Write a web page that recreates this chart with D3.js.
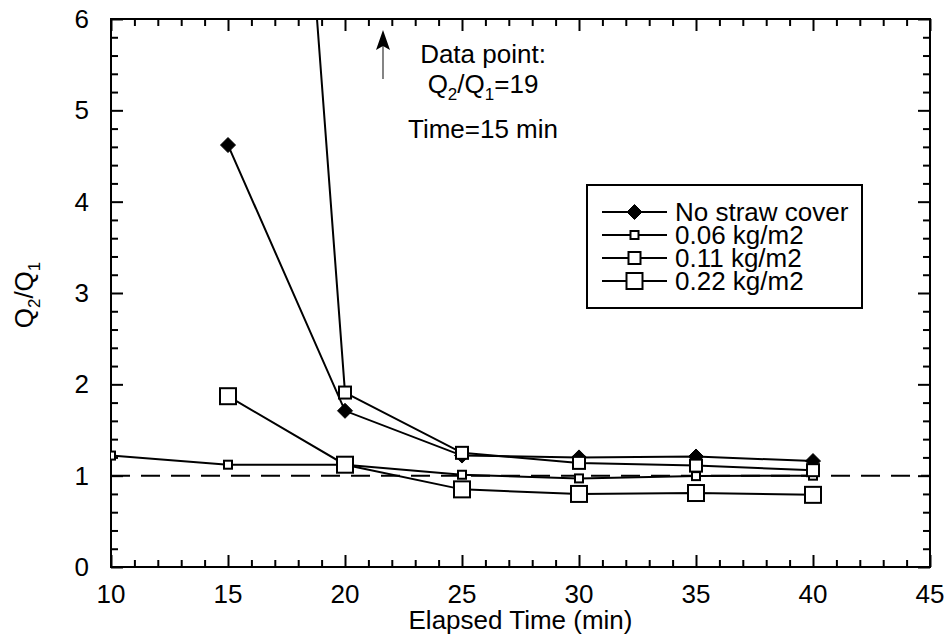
<!DOCTYPE html>
<html><head><meta charset="utf-8">
<script src="https://cdn.jsdelivr.net/npm/d3@7"></script>
<style>body{margin:0;background:#fff}svg{display:block}text{font-family:Arial,"Liberation Sans",sans-serif;fill:#000}</style>
</head><body>
<svg id="c" width="947" height="641"></svg>
<script>
const times = [10, 15, 20, 25, 30, 35, 40];
const seriesNames = ["No straw cover", "0.06 kg/m2", "0.11 kg/m2", "0.22 kg/m2"];
const noStraw = [null, 4.62, 1.71, 1.22, 1.20, 1.21, 1.16];
const kg006 = [1.22, 1.12, 1.12, 1.01, 0.97, 0.995, 1.0];
const kg011 = [null, 19, 1.91, 1.25, 1.14, 1.11, 1.06];
const kg022 = [null, 1.87, 1.12, 0.85, 0.80, 0.81, 0.79];
const xTicks = [10, 15, 20, 25, 30, 35, 40, 45];
const yTicks = [0, 1, 2, 3, 4, 5, 6];

const svg = d3.select("#c");
const L = 111, R = 930, T = 19, B = 567;
const x = d3.scaleLinear().domain([10, 45]).range([L, R]);
const y = d3.scaleLinear().domain([0, 6]).range([B, T]);
const FS = 26;
const SUB = 17;

svg.append("defs").append("clipPath").attr("id", "clip")
  .append("rect").attr("x", L).attr("y", T).attr("width", R - L).attr("height", B - T);

// reference dashed line at 1
svg.append("line").attr("x1", L).attr("x2", R).attr("y1", y(1)).attr("y2", y(1))
  .attr("stroke", "#000").attr("stroke-width", 2).attr("stroke-dasharray", "19,11");

// axes with inward ticks
function ax(gen, tr, ticks, len) {
  const g = svg.append("g").attr("transform", tr)
    .call(gen.tickValues(ticks).tickSize(len).tickFormat(""));
  g.select(".domain").remove();
  g.selectAll("line").attr("stroke", "#000").attr("stroke-width", 2);
  return g;
}
const xMinor = d3.range(10, 46, 1).filter(v => v % 5 !== 0);
const yMinor = d3.range(0, 6.01, 0.2).map(v => +v.toFixed(1)).filter(v => Math.abs(v - Math.round(v)) > 0.01);
ax(d3.axisTop(x), `translate(0,${B})`, xTicks, 12);
ax(d3.axisTop(x), `translate(0,${B})`, xMinor, 7);
ax(d3.axisBottom(x), `translate(0,${T})`, xTicks, 12);
ax(d3.axisBottom(x), `translate(0,${T})`, xMinor, 7);
ax(d3.axisRight(y), `translate(${L},0)`, yTicks, 12);
ax(d3.axisRight(y), `translate(${L},0)`, yMinor, 7);
ax(d3.axisLeft(y), `translate(${R},0)`, yTicks, 12);
ax(d3.axisLeft(y), `translate(${R},0)`, yMinor, 7);

// tick labels
svg.append("g").selectAll("text").data(xTicks).join("text")
  .attr("x", d => x(d)).attr("y", 603).attr("text-anchor", "middle")
  .attr("font-size", FS).text(d => d);
svg.append("g").selectAll("text").data(yTicks).join("text")
  .attr("x", 89).attr("y", d => y(d) + 9).attr("text-anchor", "end")
  .attr("font-size", FS).text(d => d);

// frame
svg.append("rect").attr("x", L).attr("y", T).attr("width", R - L).attr("height", B - T)
  .attr("fill", "none").attr("stroke", "#000").attr("stroke-width", 2);

// axis titles
svg.append("text").attr("x", (L + R) / 2).attr("y", 629).attr("text-anchor", "middle")
  .attr("font-size", FS).text("Elapsed Time (min)");
const yt = svg.append("text").attr("transform", "translate(33,295) rotate(-90)")
  .attr("text-anchor", "middle").attr("font-size", FS);
yt.append("tspan").text("Q");
yt.append("tspan").attr("font-size", SUB).attr("dy", 7).text("2");
yt.append("tspan").attr("dy", -7).text("/Q");
yt.append("tspan").attr("font-size", SUB).attr("dy", 7).text("1");

// series
const series = [
  {name: seriesNames[0], vals: noStraw, shape: "diamond", size: 15},
  {name: seriesNames[1], vals: kg006, shape: "square", size: 8},
  {name: seriesNames[2], vals: kg011, shape: "square", size: 12},
  {name: seriesNames[3], vals: kg022, shape: "square", size: 16}
];
const line = d3.line().defined(d => d[1] != null).x(d => x(d[0])).y(d => y(d[1]));
const plot = svg.append("g").attr("clip-path", "url(#clip)");
function marker(g, s, cx, cy) {
  if (s.shape === "diamond") {
    const h = s.size / 2;
    g.append("path").attr("d", `M${cx},${cy - h}L${cx + h},${cy}L${cx},${cy + h}L${cx - h},${cy}Z`)
      .attr("fill", "#000").attr("stroke", "#000").attr("stroke-width", 1);
  } else {
    g.append("rect").attr("x", cx - s.size / 2).attr("y", cy - s.size / 2)
      .attr("width", s.size).attr("height", s.size)
      .attr("fill", "#fff").attr("stroke", "#000").attr("stroke-width", 2);
  }
}
series.forEach(s => {
  const pts = times.map((t, i) => [t, s.vals[i]]);
  plot.append("path").datum(pts).attr("d", line).attr("fill", "none")
    .attr("stroke", "#000").attr("stroke-width", 2);
});
series.forEach(s => {
  times.forEach((t, i) => {
    const v = s.vals[i];
    if (v == null || v > 6) return;
    marker(plot, s, x(t), y(v));
  });
});

// legend
const lg = svg.append("g");
lg.append("rect").attr("x", 587).attr("y", 185).attr("width", 275).attr("height", 123)
  .attr("fill", "#fff").attr("stroke", "#000").attr("stroke-width", 2);
series.forEach((s, i) => {
  const cy = 212 + i * 23;
  lg.append("line").attr("x1", 602).attr("x2", 667).attr("y1", cy).attr("y2", cy)
    .attr("stroke", "#000").attr("stroke-width", 2);
  marker(lg, s, 634.5, cy);
  lg.append("text").attr("x", 675).attr("y", cy + 9).attr("font-size", FS).text(s.name);
});

// annotation
const ann = svg.append("g");
ann.append("line").attr("x1", 383).attr("x2", 383).attr("y1", 79).attr("y2", 44)
  .attr("stroke", "#333").attr("stroke-width", 1.2);
ann.append("path").attr("d", "M383,30 L390,50 L383,46 L376,50 Z").attr("fill", "#000");
ann.append("text").attr("x", 483).attr("y", 63).attr("text-anchor", "middle").attr("font-size", FS).text("Data point:");
const qt = ann.append("text").attr("x", 483).attr("y", 93).attr("text-anchor", "middle").attr("font-size", FS);
qt.append("tspan").text("Q");
qt.append("tspan").attr("font-size", SUB).attr("dy", 7).text("2");
qt.append("tspan").attr("dy", -7).text("/Q");
qt.append("tspan").attr("font-size", SUB).attr("dy", 7).text("1");
qt.append("tspan").attr("dy", -7).text("=19");
ann.append("text").attr("x", 483).attr("y", 138).attr("text-anchor", "middle").attr("font-size", FS).text("Time=15 min");
</script>
</body></html>
